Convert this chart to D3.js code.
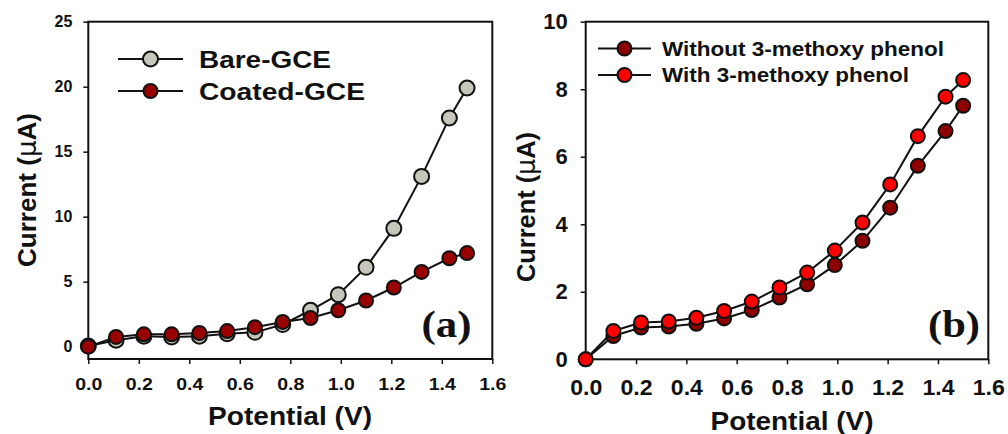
<!DOCTYPE html>
<html>
<head>
<meta charset="utf-8">
<script src="https://cdn.jsdelivr.net/npm/d3@7"></script>
<style>
  html, body { margin: 0; padding: 0; background: #fff; }
  svg { display: block; }
  text { font-family: "Liberation Sans", Arial, sans-serif; font-weight: bold; fill: #111; }
</style>
</head>
<body>
<svg id="chart" width="1008" height="434"></svg>
<script>
// Applied potential (V) shared by both panels
const potential = [0, 0.11, 0.22, 0.33, 0.44, 0.55, 0.66, 0.77, 0.88, 0.99, 1.10, 1.21, 1.32, 1.43, 1.50];

// Panel (a): bare vs coated glassy carbon electrode, current in µA
const bareGCE   = [0.05, 0.5, 0.8, 0.75, 0.8, 1.0, 1.1, 1.7, 2.8, 4.0, 6.1, 9.1, 13.1, 17.6, 19.9];
const coatedGCE = [0, 0.75, 0.95, 0.95, 1.05, 1.2, 1.5, 1.9, 2.2, 2.8, 3.55, 4.55, 5.75, 6.8, 7.2];

// Panel (b): coated electrode without / with 3-methoxy phenol, current in µA
const withoutMP = [0, 0.69, 0.94, 0.97, 1.05, 1.21, 1.46, 1.83, 2.22, 2.79, 3.51, 4.49, 5.73, 6.76, 7.51];
const withMP    = [0, 0.84, 1.09, 1.12, 1.23, 1.43, 1.71, 2.13, 2.57, 3.22, 4.05, 5.18, 6.61, 7.78, 8.27];

// Tick values
const xTicks  = [0, 0.2, 0.4, 0.6, 0.8, 1.0, 1.2, 1.4, 1.6];
const yTicksA = [0, 5, 10, 15, 20, 25];
const yTicksB = [0, 2, 4, 6, 8, 10];

const legendA = ["Bare-GCE", "Coated-GCE"];
const legendB = ["Without 3-methoxy phenol", "With 3-methoxy phenol"];

const svg = d3.select("#chart");

function drawPanel(cfg) {
  const x = d3.scaleLinear().domain([0, 1.6]).range(cfg.xRange);
  const y = d3.scaleLinear().domain(cfg.yDomain).range(cfg.yRange);
  const g = svg.append("g");

  // frame
  g.append("rect")
    .attr("x", cfg.xRange[0]).attr("y", cfg.yRange[1])
    .attr("width", cfg.xRange[1] - cfg.xRange[0])
    .attr("height", cfg.yRange[0] - cfg.yRange[1])
    .attr("fill", "none").attr("stroke", "#111").attr("stroke-width", 2);

  // x axis
  const xa = g.append("g")
    .attr("transform", `translate(0,${cfg.yRange[0]})`)
    .call(d3.axisBottom(x).tickValues(xTicks).tickFormat(d3.format(".1f"))
      .tickSize(5).tickPadding(cfg.xPad));
  xa.select(".domain").remove();
  xa.selectAll("line").attr("stroke", "#111").attr("stroke-width", 1.5);
  xa.selectAll("text").style("font-size", cfg.xFont + "px")
    .attr("transform", `scale(${cfg.xStretch},1)`);

  // y axis
  const ya = g.append("g")
    .attr("transform", `translate(${cfg.xRange[0]},0)`)
    .call(d3.axisLeft(y).tickValues(cfg.yTicks).tickFormat(d3.format("d"))
      .tickSize(5).tickPadding(cfg.yPad));
  ya.select(".domain").remove();
  ya.selectAll("line").attr("stroke", "#111").attr("stroke-width", 1.5);
  ya.selectAll("text").style("font-size", cfg.yFont + "px");

  // axis titles
  g.append("text")
    .attr("x", cfg.xTitle[0]).attr("y", cfg.xTitle[1])
    .attr("text-anchor", "middle")
    .attr("textLength", cfg.xTitle[2]).attr("lengthAdjust", "spacingAndGlyphs")
    .style("font-size", "25px")
    .text("Potential (V)");

  const yt = g.append("text")
    .attr("transform", `translate(${cfg.yTitle[0]},${cfg.yTitle[1]}) rotate(-90)`)
    .attr("text-anchor", "middle")
    .attr("textLength", cfg.yTitle[2]).attr("lengthAdjust", "spacingAndGlyphs")
    .style("font-size", "26px");
  yt.append("tspan").text("Current (");
  yt.append("tspan").style("font-family", "'DejaVu Sans', sans-serif").style("font-weight", "normal").text("μ");
  yt.append("tspan").text("A)");

  // series
  const line = d3.line().x((d, i) => x(potential[i])).y(d => y(d));
  cfg.series.forEach(s => {
    g.append("path").datum(s.values)
      .attr("d", line).attr("fill", "none")
      .attr("stroke", "#111").attr("stroke-width", 2);
    g.append("g").selectAll("circle").data(s.values).join("circle")
      .attr("cx", (d, i) => x(potential[i]))
      .attr("cy", d => y(d))
      .attr("r", s.r)
      .attr("fill", s.color).attr("stroke", "#111").attr("stroke-width", 2);
  });

  // legend
  cfg.series.forEach((s, i) => {
    const ly = cfg.legend.y[i];
    g.append("line")
      .attr("x1", cfg.legend.x1).attr("x2", cfg.legend.x2)
      .attr("y1", ly).attr("y2", ly)
      .attr("stroke", "#111").attr("stroke-width", 2);
    g.append("circle")
      .attr("cx", (cfg.legend.x1 + cfg.legend.x2) / 2).attr("cy", ly)
      .attr("r", s.r).attr("fill", s.color).attr("stroke", "#111").attr("stroke-width", 2);
    g.append("text")
      .attr("x", cfg.legend.tx).attr("y", ly + cfg.legend.font * 0.36)
      .attr("textLength", cfg.legend.len[i]).attr("lengthAdjust", "spacingAndGlyphs")
      .style("font-size", cfg.legend.font + "px")
      .text(s.name);
  });

  // panel tag
  g.append("text")
    .attr("x", cfg.tag[0]).attr("y", cfg.tag[1])
    .attr("textLength", cfg.tag[2]).attr("lengthAdjust", "spacingAndGlyphs")
    .style("font-family", "'Liberation Serif', 'Times New Roman', serif")
    .style("font-size", "37px")
    .text(cfg.tag[3]);
}

drawPanel({
  xRange: [88.3, 492.3], yDomain: [-0.95, 25], yRange: [359, 21.7],
  yTicks: yTicksA, xFont: 17, xStretch: 1.15, xPad: 14, yFont: 16, yPad: 11,
  xTitle: [290, 425, 164], yTitle: [36, 190, 154],
  series: [
    { name: legendA[0], values: bareGCE, color: "#c6c6ba", r: 7.5 },
    { name: legendA[1], values: coatedGCE, color: "#990000", r: 7 }
  ],
  legend: { x1: 118, x2: 183, y: [59, 91], tx: 199, font: 24, len: [132, 166] },
  tag: [421.5, 337, 50, "(a)"]
});

drawPanel({
  xRange: [585.7, 988.3], yDomain: [0, 10], yRange: [359.3, 21.7],
  yTicks: yTicksB, xFont: 22, xStretch: 1.05, xPad: 15, yFont: 22, yPad: 13,
  xTitle: [792, 430, 163], yTitle: [535, 207, 150],
  series: [
    { name: legendB[0], values: withoutMP, color: "#8e0000", r: 7 },
    { name: legendB[1], values: withMP, color: "#ff0000", r: 7 }
  ],
  legend: { x1: 598, x2: 651, y: [48.5, 75], tx: 662, font: 20, len: [282, 247] },
  tag: [928, 337, 52, "(b)"]
});
</script>
</body>
</html>
